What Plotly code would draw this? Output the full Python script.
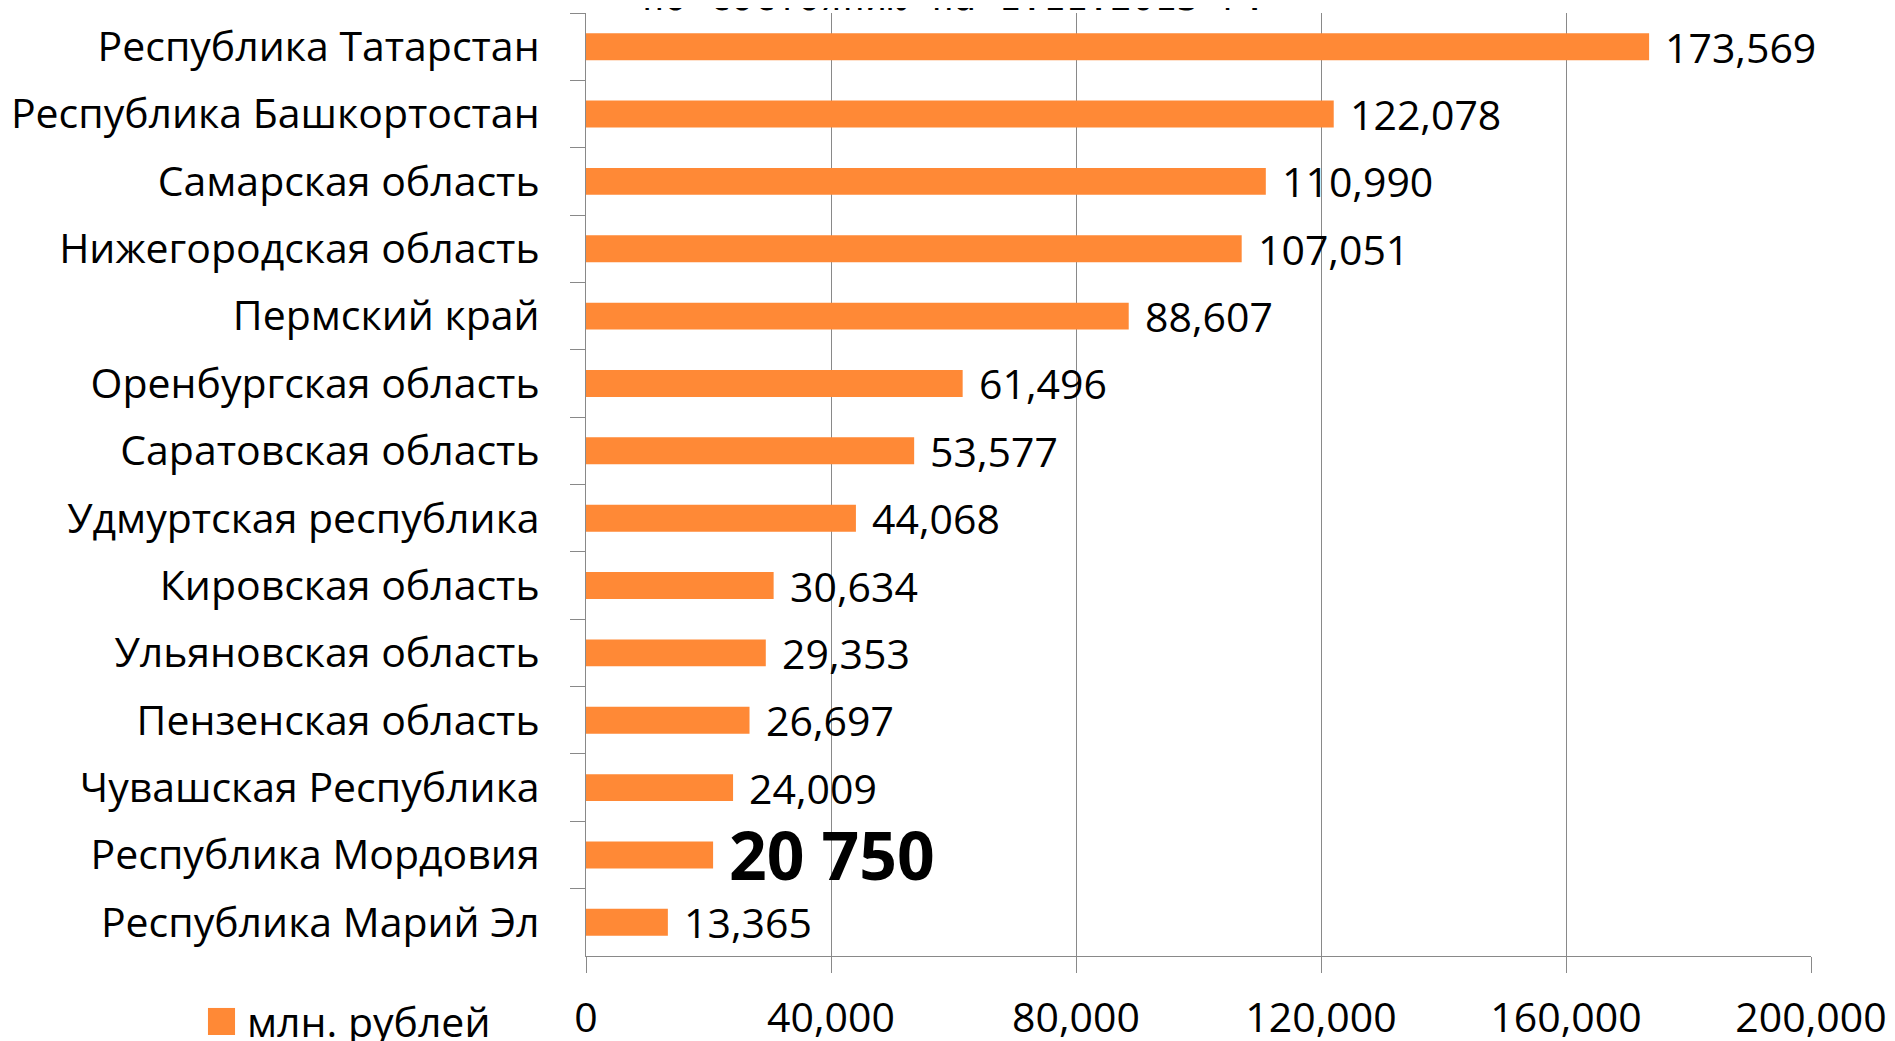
import plotly.graph_objects as go

regions = [
    "Республика Татарстан",
    "Республика Башкортостан",
    "Самарская область",
    "Нижегородская область",
    "Пермский край",
    "Оренбургская область",
    "Саратовская область",
    "Удмуртская республика",
    "Кировская область",
    "Ульяновская область",
    "Пензенская область",
    "Чувашская Республика",
    "Республика Мордовия",
    "Республика Марий Эл",
]
values = [173569, 122078, 110990, 107051, 88607, 61496, 53577,
          44068, 30634, 29353, 26697, 24009, 20750, 13365]
labels = ["173,569", "122,078", "110,990", "107,051", "88,607", "61,496", "53,577",
          "44,068", "30,634", "29,353", "26,697", "24,009", "20 750", "13,365"]
highlight = "Республика Мордовия"
x_ticks = [0, 40000, 80000, 120000, 160000, 200000]
series_name = "млн. рублей"
title_text = "по состоянию на 1.11.2013 г."

BAR = "#FF8936"
GRID = "#898989"
FONT = "Open Sans"

fig = go.Figure()
fig.add_trace(go.Bar(
    x=values, y=regions, orientation="h",
    marker=dict(color=BAR, line=dict(width=0)),
    name=series_name, showlegend=False, hoverinfo="x+y",
))

for reg, v, lab in zip(regions, values, labels):
    bold = reg == highlight
    fig.add_annotation(
        x=v, y=reg, xref="x", yref="y",
        text=f"<b>{lab}</b>" if bold else lab,
        showarrow=False, xanchor="left", yanchor="middle",
        xshift=14, yshift=1 if bold else 0,
        font=dict(family=FONT, size=66 if bold else 41, color="black"),
    )

# title line (partially cut off at the top, as in the reference)
fig.add_annotation(
    x=0.3, y=1, xref="paper", yref="paper", text=title_text,
    showarrow=False, xanchor="center", yanchor="bottom", yshift=-8,
    font=dict(family="DejaVu Sans Mono", size=37, color="black"),
)

# legend
fig.add_shape(type="rect", xref="paper", yref="paper",
              x0=-0.3086, x1=-0.2865, y0=-0.0838, y1=-0.0551,
              fillcolor=BAR, line=dict(width=0))
fig.add_annotation(
    x=-0.2785, y=-0.0690, xref="paper", yref="paper", text=series_name,
    showarrow=False, xanchor="left", yanchor="middle",
    font=dict(family=FONT, size=41, color="black"),
)

fig.update_layout(
    width=1895, height=1041,
    margin=dict(l=578, r=92, t=5, b=93),
    paper_bgcolor="white", plot_bgcolor="white",
    bargap=0.6,
    font=dict(family=FONT, size=41, color="black"),
)
fig.update_xaxes(
    range=[0, 200000], tickvals=x_ticks, tickformat=",",
    showgrid=True, gridcolor=GRID, gridwidth=1.4,
    showline=True, linecolor=GRID, linewidth=1.4,
    ticks="outside", ticklen=16, tickcolor=GRID, tickwidth=1.4,
    ticklabelstandoff=10, zeroline=False, automargin=False,
    tickfont=dict(family=FONT, size=41, color="black"),
)
fig.update_yaxes(
    categoryorder="array", categoryarray=regions, autorange="reversed",
    showgrid=False, showline=True, linecolor=GRID, linewidth=1.4,
    ticks="outside", ticklen=15, tickcolor=GRID, tickwidth=1.4,
    tickson="boundaries", ticklabelstandoff=37, automargin=False,
    tickfont=dict(family=FONT, size=41, color="black"),
)

fig.write_html("out.html")
